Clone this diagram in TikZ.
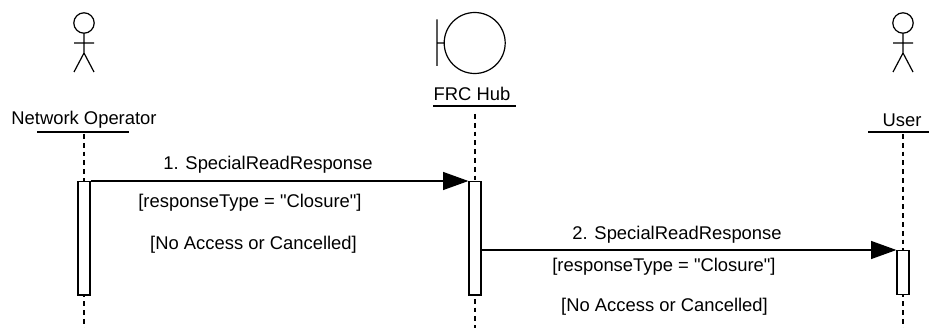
\documentclass[tikz,border=0pt]{standalone}
\usepackage{fontspec}
\newfontfamily\nhanfont{Liberation Sans}
\usetikzlibrary{arrows.meta}
\tikzset{
	nhan/.style={font=\nhanfont\fontsize{13.8pt}{15pt}\selectfont,inner sep=0pt},
	hop/.style={draw,fill=white,line width=.9pt,inner sep=0pt,minimum width=9pt,anchor=north},
	gach/.style={line width=.9pt,dash pattern=on 3.6pt off 3pt},
	tin/.style={line width=.9pt,-{Triangle[length=19pt,width=13.5pt]}},
}
\begin{document}
\begin{tikzpicture}[x=.75pt,y=-.75pt]
	\useasboundingbox (0,0) rectangle (929,328);
	\path
	(84,120) node[nhan] (opname) {Network Operator}   % nguoi 1
	(472,94) node[nhan] (hubname) {FRC Hub}           % hub
	(902,120) node[nhan] (username) {User}            % nguoi 2
	(84,134) coordinate (optop) (84,328) coordinate (opbot)
	(475,114) coordinate (hubtop) (475,328) coordinate (hubbot)
	(903,134) coordinate (usertop) (903,328) coordinate (userbot);
	\draw[gach] (optop)--(opbot);
	\draw[gach] (hubtop)--(hubbot);
	\draw[gach] (usertop)--(userbot);
	\draw[line width=.9pt]
	(37,132)--(129,132) (433,106)--(516,106) (868,132)--(929,132);
	% hinh nguoi
	\foreach \cx in {84,903}{
		\draw[line width=.9pt]
		(\cx,23) circle (10.2)
		(\cx,33.2)--(\cx,53) (\cx-10,43)--(\cx+10,43)
		(\cx-10,72)--(\cx,53)--(\cx+10,72);
	}
	% hub
	\draw[line width=.9pt]
	(474.7,43) circle (30.5)
	(444.2,43)--(437,43) (437,19.5)--(437,66);
	\node[hop,minimum height=85pt] (opbox) at (84,181) {};
	\node[hop,minimum height=85pt] (hubbox) at (475,181) {};
	\node[hop,minimum height=33pt] (userbox) at (903,250) {};
	\draw[tin] (opbox.north east)--(hubbox.north west);
	\draw[tin] (hubbox.east |- userbox.north west)--(userbox.north west);
	\path
	(268,165) node[nhan] (msgA) {1. SpecialReadResponse}
	(250,203) node[nhan] (condA) {[responseType = "Closure"]}
	(253.5,245) node[nhan] (noteA) {[No Access or Cancelled]}
	(677,235) node[nhan] (msgB) {2. SpecialReadResponse}
	(664,267) node[nhan] (condB) {[responseType = "Closure"]}
	(664.5,307) node[nhan] (noteB) {[No Access or Cancelled]};
\end{tikzpicture}
\end{document}
